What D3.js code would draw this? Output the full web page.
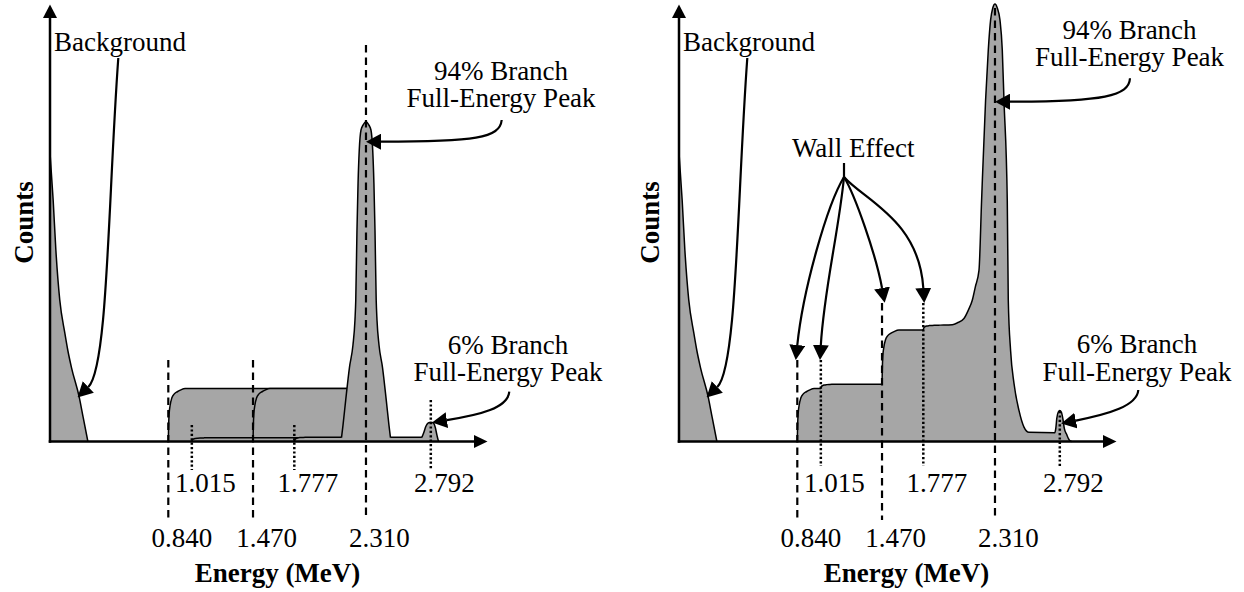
<!DOCTYPE html>
<html>
<head>
<meta charset="utf-8">
<script src="https://cdn.jsdelivr.net/npm/d3@7"></script>
<style>
  html, body { margin: 0; padding: 0; background: #fff; }
  svg { display: block; }
  text { font-family: "Liberation Serif", "Times New Roman", Times, serif; fill: #000; }
</style>
</head>
<body>
<svg id="chart" width="1244" height="592"></svg>
<script>
// 10B(n,alpha)7Li reaction product energies (MeV)
const branch94Energies = [0.840, 1.470, 2.310];   // 7Li, alpha, full energy (94% branch)
const branch6Energies  = [1.015, 1.777, 2.792];   // 7Li, alpha, full energy (6% branch)
const branch94Labels = ["0.840", "1.470", "2.310"];
const branch6Labels  = ["1.015", "1.777", "2.792"];

// low-energy background (energy in MeV, counts in arbitrary units)
const backgroundEnergy = [-0.041, -0.016, 0.004, 0.033, 0.071, 0.093, 0.120, 0.178, 0.207, 0.242];
const backgroundCounts = [66.6, 55.1, 43.7, 32.3, 24.7, 20.8, 16.9, 10.1, 5.5, 0];

// rounded onset of a continuum edge: energy past the edge and fraction of the step reached
const edgeOffset   = [0, 0.0022, 0.006, 0.0134, 0.026, 0.0446, 0.0669, 0.0892, 0.126];
const edgeFraction = [0, 0.28, 0.52, 0.68, 0.82, 0.90, 0.94, 0.97, 1.0];

// left panel: separate continua and peaks
const idealContinuumStart = [0.840, 1.470, 1.015, 1.777];
const idealContinuumEnd   = [2.310, 2.310, 2.792, 2.792];
const idealContinuumLevel = [12.1, 12.1, 0.85, 1.0];
const idealPeak94Offset = [-0.182, -0.171, -0.151, -0.123, -0.097, -0.082, -0.076, -0.067, -0.059, -0.050, -0.037, -0.022, 0,
                           0.022, 0.037, 0.050, 0.059, 0.067, 0.076, 0.082, 0.097, 0.123, 0.151, 0.171, 0.182];
const idealPeak94Counts = [0.9, 3.7, 9.4, 16.9, 22.0, 27.7, 32.3, 48.3, 59.0, 66.6, 71.2, 72.3, 73.1,
                           72.3, 71.2, 66.6, 59.0, 48.3, 32.3, 27.7, 22.0, 16.9, 9.4, 3.7, 0.9];
const idealPeak6Offset = [-0.0669, -0.052, -0.0372, -0.0186, 0, 0.0186, 0.0335, 0.0446, 0.0558, 0.0595];
const idealPeak6Counts = [0.9, 2.06, 3.43, 4.23, 4.42, 4.23, 3.2, 1.6, 0.23, 0];

// right panel: summed spectrum with wall-effect steps
const wallStepEnergy = [0.840, 1.015, 1.470, 1.777];
const wallStepLevel  = [12.1, 13.1, 25.5, 26.6];
const wallPeak94Offset = [-0.3175, -0.2803, -0.2305, -0.1985, -0.1688, -0.1465, -0.119, -0.0996, -0.0699, -0.0498, -0.0327, -0.0164, 0,
                          0.0171, 0.0372, 0.0543, 0.0669, 0.0914, 0.0989, 0.116, 0.1413, 0.1784, 0.2156, 0.2528];
const wallPeak94Counts = [26.7, 27.1, 28.1, 30.0, 32.3, 35.3, 39.1, 55.1, 78.0, 89.5, 96.3, 99.1, 100,
                          99.1, 96.3, 89.5, 78.0, 55.1, 32.3, 20.8, 13.3, 7.1, 3.3, 2.1];
const wallPeak6Offset = [-0.0372, -0.0297, -0.0223, -0.0112, 0, 0.0112, 0.0223, 0.0335, 0.0498, 0.0743, 0.0892];
const wallPeak6Counts = [2.0, 3.0, 5.3, 6.75, 7.1, 6.75, 5.3, 3.0, 1.7, 0.2, 0];

// ---------------------------------------------------------------------------
const GRAY = "#a6a6a6";
const FONT = 27;
const LINE_STEP = 27.8;
const baseY = 441.5;
const svg = d3.select("#chart");
svg.append("rect").attr("width", 1244).attr("height", 592).attr("fill", "#fff");

const defs = svg.append("defs");
defs.append("marker")
  .attr("id", "head")
  .attr("viewBox", "0 -8 15 16")
  .attr("refX", 0).attr("refY", 0)
  .attr("markerWidth", 15).attr("markerHeight", 16)
  .attr("markerUnits", "userSpaceOnUse")
  .attr("orient", "auto")
  .append("path").attr("d", "M0,-8L15,0L0,8Z").attr("fill", "#000");

// shared scales, in panel-local coordinates
const x = d3.scaleLinear().domain([0.84, 2.792]).range([118.3, 380.8]);
const y = d3.scaleLinear().domain([0, 100]).range([baseY, 4]);

const area = d3.area().x(d => x(d[0])).y0(y(0)).y1(d => y(d[1])).curve(d3.curveMonotoneX);
const line = d3.line().x(d => x(d[0])).y(d => y(d[1])).curve(d3.curveMonotoneX);

const zip = (a, b) => a.map((v, i) => [v, b[i]]);
const background = zip(backgroundEnergy, backgroundCounts);

function continuum(start, end, level) {
  const pts = edgeOffset.map((o, i) => [start + o, level * edgeFraction[i]]);
  pts.push([end, level], [end + 0.0005, 0]);
  return pts;
}

function peak(center, offsets, counts) {
  return offsets.map((o, i) => [center + o, counts[i]]);
}

function wallSpectrum() {
  const pts = [];
  let prev = 0;
  wallStepEnergy.forEach((e, i) => {
    const lvl = wallStepLevel[i];
    edgeOffset.forEach((o, j) => pts.push([e + o, prev + (lvl - prev) * edgeFraction[j]]));
    prev = lvl;
  });
  peak(branch94Energies[2], wallPeak94Offset, wallPeak94Counts).forEach(p => pts.push(p));
  peak(branch6Energies[2], wallPeak6Offset, wallPeak6Counts).forEach(p => pts.push(p));
  return pts;
}

const idealShapes = [background]
  .concat(idealContinuumStart.map((s, i) => continuum(s, idealContinuumEnd[i], idealContinuumLevel[i])))
  .concat([peak(branch94Energies[2], idealPeak94Offset, idealPeak94Counts),
           peak(branch6Energies[2], idealPeak6Offset, idealPeak6Counts)]);
const wallShapes = [background, wallSpectrum()];

function drawShape(g, pts) {
  g.append("path").attr("d", area(pts)).attr("fill", GRAY);
  g.append("path").attr("d", line(pts)).attr("fill", "none")
    .attr("stroke", "#000").attr("stroke-width", 1.5).attr("stroke-linejoin", "round");
}

function arrow(g, d) {
  g.append("path").attr("d", d).attr("fill", "none")
    .attr("stroke", "#000").attr("stroke-width", 2.2)
    .attr("marker-end", "url(#head)");
}

function label(g, lines, cx, y0) {
  lines.forEach((t, i) => g.append("text")
    .attr("x", cx).attr("y", y0 + i * LINE_STEP)
    .attr("text-anchor", "middle").attr("font-size", FONT).text(t));
}

const panels = [
  {
    x0: 50, shapes: idealShapes,
    top94: [360, 360, 45], top6: [425, 425, 400], bottom6: 470,
    peak94Text: [451, 79.5], peak94Arrow: [[451.7, 120], [450, 138], [425, 141.7], 141.7],
    peak6TextY: 353.5,
    countsX: -17
  },
  {
    x0: 679, shapes: wallShapes,
    top94: [360, 303, 8], top6: [360, 303, 411], bottom6: 466,
    peak94Text: [450.5, 38.5], peak94Arrow: [[451, 78.3], [450, 96], [425, 101.5], 101.7],
    peak6TextY: 352.8,
    countsX: -20, wall: true
  }
];

panels.forEach(cfg => {
  const g = svg.append("g").attr("transform", `translate(${cfg.x0},0)`);

  // spectrum components
  cfg.shapes.forEach(pts => drawShape(g, pts));

  // energy guide lines
  branch94Energies.forEach((e, i) => g.append("line")
    .attr("x1", x(e)).attr("x2", x(e)).attr("y1", cfg.top94[i]).attr("y2", 520)
    .attr("stroke", "#000").attr("stroke-width", 2.2).attr("stroke-dasharray", "7.5,5"));
  branch6Energies.forEach((e, i) => g.append("line")
    .attr("x1", x(e)).attr("x2", x(e)).attr("y1", cfg.top6[i]).attr("y2", cfg.bottom6)
    .attr("stroke", "#000").attr("stroke-width", 2.5).attr("stroke-dasharray", "2.2,2.2"));

  // energy values, decimal point on the guide line
  branch6Labels.forEach((t, i) => g.append("text")
    .attr("x", x(branch6Energies[i])).attr("y", 492).attr("dx", "-0.625em")
    .attr("font-size", FONT).text(t));
  branch94Labels.forEach((t, i) => g.append("text")
    .attr("x", x(branch94Energies[i])).attr("y", 546.5).attr("dx", "-0.625em")
    .attr("font-size", FONT).text(t));

  // axes (plain lines with arrowheads)
  const xAxisScale = d3.scaleLinear().domain([x.invert(0), x.invert(424)]).range([0, 424]);
  const yAxisScale = d3.scaleLinear().domain([0, y.invert(18)]).range([baseY, 18]);
  const gx = g.append("g").attr("transform", `translate(0,${baseY})`)
    .call(d3.axisBottom(xAxisScale).tickValues([]).tickSizeOuter(0).offset(0));
  const gy = g.append("g")
    .call(d3.axisLeft(yAxisScale).tickValues([]).tickSizeOuter(0).offset(0));
  [gx, gy].forEach(a => a.select(".domain")
    .attr("stroke", "#000").attr("stroke-width", 2.5).attr("stroke-linecap", "square"));
  g.append("path").attr("d", `M-7,18L0,4.5L7,18Z`).attr("fill", "#000");
  g.append("path").attr("d", `M424,${baseY - 6.5}L437.5,${baseY}L424,${baseY + 6.5}Z`).attr("fill", "#000");

  // axis titles
  g.append("text")
    .attr("transform", `translate(${cfg.countsX},222.5) rotate(-90)`)
    .attr("text-anchor", "middle").attr("font-size", FONT).attr("font-weight", "bold")
    .text("Counts");
  g.append("text").attr("x", 227.5).attr("y", 581.5)
    .attr("text-anchor", "middle").attr("font-size", FONT).attr("font-weight", "bold")
    .text("Energy (MeV)");

  // background annotation
  g.append("text").attr("x", 4).attr("y", 50.5).attr("font-size", FONT).text("Background");
  arrow(g, "M68.3,58C58,200 58,368 38.3,387");

  // 94% branch full-energy peak
  const [tx, ty] = cfg.peak94Text;
  label(g, ["94% Branch", "Full-Energy Peak"], tx, ty);
  const [p0, c1, c2, ay] = cfg.peak94Arrow;
  const tip94 = x(branch94Energies[2]);
  arrow(g, `M${p0}C${c1} ${c2} ${tip94 + 15},${ay}`);

  // 6% branch full-energy peak
  label(g, ["6% Branch", "Full-Energy Peak"], 458, cfg.peak6TextY);
  const tip6 = x(branch6Energies[2]) + 1.5;
  const ay6 = cfg.wall ? 424 : 423.5;
  arrow(g, `M459.3,${cfg.wall ? 390 : 391.7}C458,${cfg.wall ? 406 : 408} 430,${cfg.wall ? 414 : 415} ${tip6 + 14.6},${ay6 - 3.4}`);

  // wall effect annotation
  if (cfg.wall) {
    g.append("text").attr("x", 174.3).attr("y", 156.7)
      .attr("text-anchor", "middle").attr("font-size", FONT).text("Wall Effect");
    g.append("line").attr("x1", 165).attr("x2", 165).attr("y1", 163).attr("y2", 178)
      .attr("stroke", "#000").attr("stroke-width", 2.2);
    arrow(g, `M165,177C148,205 124,290 ${x(branch94Energies[0])},345`);
    arrow(g, `M165,177C160,230 145,290 ${x(branch6Energies[0])},345`);
    arrow(g, `M165,177C176,195 197,255 ${x(branch94Energies[1])},288`);
    arrow(g, `M165,177C185,200 240,220 ${x(branch6Energies[1])},288`);
  }
});
</script>
</body>
</html>
